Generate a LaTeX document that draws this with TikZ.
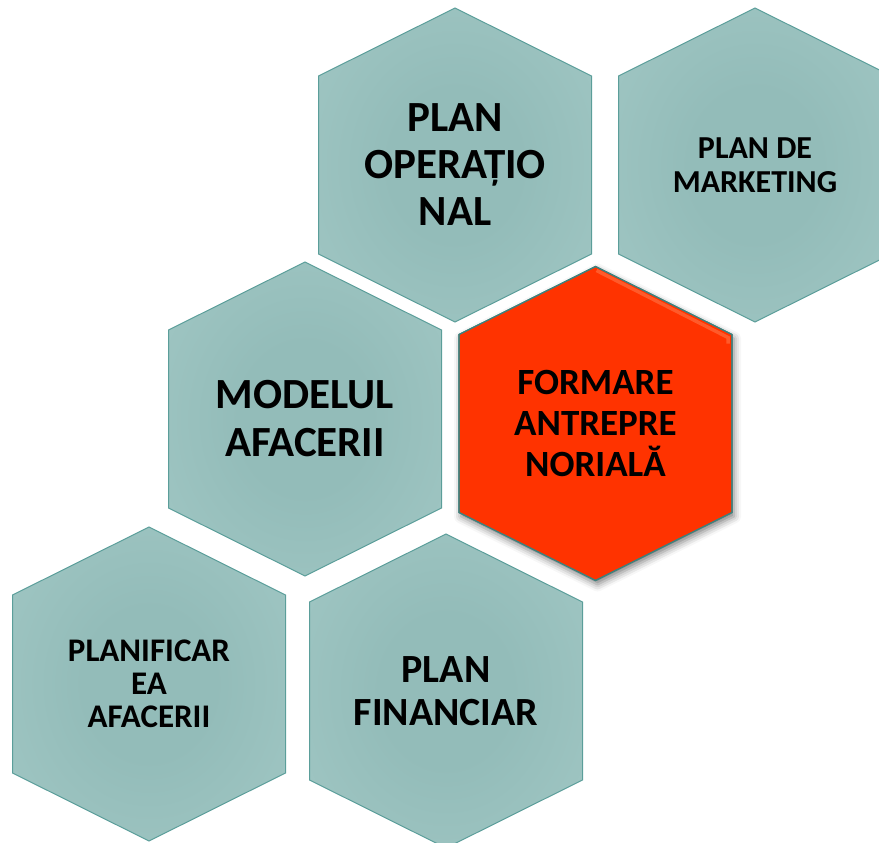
\documentclass[tikz,border=0pt]{standalone}
\usepackage{fontspec}
\setmainfont{Carlito}
\usetikzlibrary{shadows.blur}
\definecolor{tealdark}{HTML}{93BCB9}
\definecolor{teallight}{HTML}{ABCFCC}
\definecolor{hexborder}{HTML}{5B9E9A}
\definecolor{hexred}{HTML}{FF3300}
\definecolor{redborder}{HTML}{3F807C}
\definecolor{redbevel}{HTML}{FF5A2A}
\pgfdeclareradialshading{hexshade}{\pgfpoint{0bp}{0bp}}{color(0bp)=(tealdark); color(12bp)=(tealdark); color(52bp)=(teallight); color(75bp)=(teallight)}
\newcommand{\hexoutline}{(0,-157) -- (136.5,-89) -- (136.5,89) -- (0,157) -- (-136.5,89) -- (-136.5,-89) -- cycle}
\tikzset{
  tealhex/.style={draw=hexborder, line width=1pt, shading=hexshade},
  redhex/.style={draw=redborder, line width=1.2pt, fill=hexred,
    blur shadow={shadow xshift=2pt, shadow yshift=-4pt, shadow blur radius=7pt, shadow opacity=50}},
  hexlabel/.style={font=\bfseries, align=center, text=black, inner sep=0pt}
}
\begin{document}
\begin{tikzpicture}[x=1pt, y=-1pt]
\useasboundingbox (0,0) rectangle (879,843);
\clip (0,0) rectangle (879,843);
% teal hexagons
\begin{scope}[shift={(455,165)}]
  \shadedraw[tealhex] \hexoutline;
\end{scope}
\begin{scope}[shift={(755,165)}]
  \shadedraw[tealhex] \hexoutline;
\end{scope}
\begin{scope}[shift={(305,419)}]
  \shadedraw[tealhex] \hexoutline;
\end{scope}
\begin{scope}[shift={(149,684)}]
  \shadedraw[tealhex] \hexoutline;
\end{scope}
\begin{scope}[shift={(446,691)}]
  \shadedraw[tealhex] \hexoutline;
\end{scope}
% red hexagon
\begin{scope}[shift={(595.5,423.5)}]
  \path[redhex] \hexoutline;
  \draw[redbevel, line width=3.5pt] (1,-153) -- (132.5,-86) -- (132.5,-80);
  \draw[redborder, line width=1.2pt] \hexoutline;
\end{scope}
% labels
\node[hexlabel, font=\bfseries\fontsize{43}{47}\selectfont] (op) at (455,165) {PLAN\\OPERAȚIO\\NAL};
\node[hexlabel, font=\bfseries\fontsize{32}{34}\selectfont] (mk) at (755,165) {PLAN DE\\MARKETING};
\node[hexlabel, font=\bfseries\fontsize{43}{48}\selectfont] (mod) at (305,419) {MODELUL\\AFACERII};
\node[hexlabel, font=\bfseries\fontsize{37}{41}\selectfont] (fa) at (595.5,423.5) {FORMARE\\ANTREPRE\\NORIALĂ};
\node[hexlabel, font=\bfseries\fontsize{33}{33}\selectfont] (pl) at (149,684) {PLANIFICAR\\EA\\AFACERII};
\node[hexlabel, font=\bfseries\fontsize{40}{43}\selectfont] (fin) at (446,691) {PLAN\\FINANCIAR};
\end{tikzpicture}
\end{document}
